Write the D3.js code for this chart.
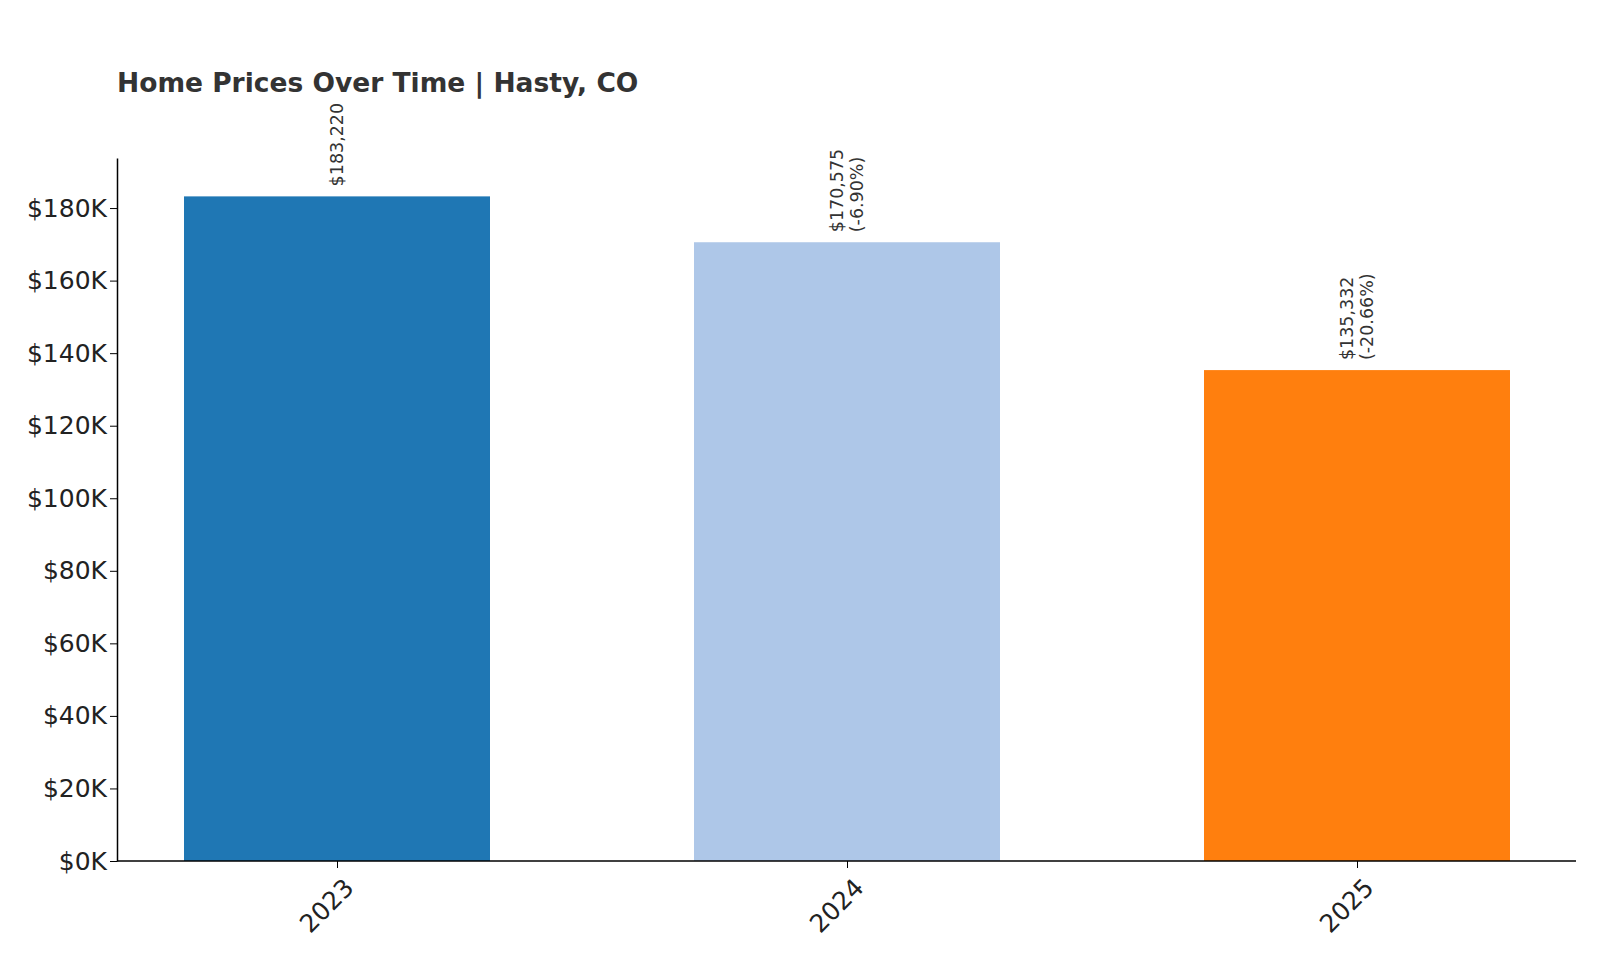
<!DOCTYPE html>
<html><head><meta charset="utf-8">
<script src="https://cdn.jsdelivr.net/npm/d3@7"></script>
<style>body{margin:0;background:#fff}text{font-family:"DejaVu Sans",sans-serif}</style>
</head><body><svg id="c" width="1600" height="960"></svg>
<script>
const years=["2023","2024","2025"];
const values=[183220,170575,135332];
const changes=[null,"(-6.90%)","(-20.66%)"];
const colors=["#1f77b4","#aec7e8","#ff7f0e"];
const yTicks=[0,20000,40000,60000,80000,100000,120000,140000,160000,180000];

const svg=d3.select("#c");
const L=117,R=1576,T=158,B=861;
const x=d3.scalePoint().domain(years).range([82,1612]).padding(0.5);
const bw=x.step()*0.6;
const y=d3.scaleLinear().domain([0,193800]).range([B,T]);

svg.append("text").attr("x",L).attr("y",92).attr("font-size",26.5).attr("font-weight","bold").attr("fill","#333").text("Home Prices Over Time | Hasty, CO");

svg.selectAll("rect.bar").data(values).join("rect")
 .attr("x",(d,i)=>x(years[i])-bw/2).attr("width",bw)
 .attr("y",d=>y(d)).attr("height",d=>B-y(d)).attr("fill",(d,i)=>colors[i]);

const yAxis=svg.append("g").attr("transform",`translate(${L},0)`)
 .call(d3.axisLeft(y).tickValues(yTicks).tickFormat(d=>"$"+(d/1000)+"K").tickSize(7).tickSizeOuter(0));
yAxis.select(".domain").attr("stroke","#000").attr("stroke-width",1.5);
yAxis.selectAll("text").attr("font-size",25).attr("fill","#222").attr("font-family","DejaVu Sans");

const xAxis=svg.append("g").attr("transform",`translate(0,${B})`)
 .call(d3.axisBottom(x).tickSize(7).tickSizeOuter(0));
xAxis.select(".domain").remove();
xAxis.selectAll("text").attr("font-size",25).attr("fill","#222").attr("font-family","DejaVu Sans")
 .attr("text-anchor","end").attr("dx","-0.3em").attr("dy","0.9em")
 .attr("transform","rotate(-45)");
svg.append("line").attr("x1",L).attr("x2",R).attr("y1",B).attr("y2",B).attr("stroke","#000").attr("stroke-width",1.5);

values.forEach((v,i)=>{
 const t=svg.append("text").attr("font-size",17.5).attr("fill","#333")
  .attr("transform",`translate(${x(years[i])},${y(v)-10}) rotate(-90)`);
 const lab="$"+d3.format(",")(v);
 if(changes[i]){
  t.append("tspan").attr("x",0).attr("dy","-0.25em").text(lab);
  t.append("tspan").attr("x",0).attr("dy","1.15em").text(changes[i]);
 } else t.append("tspan").attr("x",0).attr("dy","0.35em").text(lab);
});
</script></body></html>
